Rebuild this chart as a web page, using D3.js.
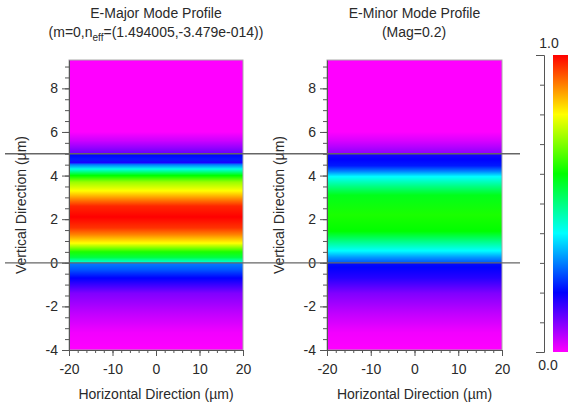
<!doctype html>
<html lang="en">
  <head>
    <meta charset="UTF-8" />
    <title>E-Major / E-Minor Mode Profile</title>
    <script src="https://d3js.org/d3.v7.min.js"></script>
    <style>
      body {
        margin: 0;
        padding: 0;
        background: #fff;
        font-family: 'Liberation Sans', Arial, sans-serif;
      }
      .title {
        font-size: 14px;
        fill: #2a2a2a;
        text-anchor: middle;
      }
      .axis-title {
        font-size: 14px;
        fill: #2a2a2a;
        text-anchor: middle;
      }
      .axis text {
        font-size: 14px;
        fill: #2a2a2a;
        font-family: 'Liberation Sans', Arial, sans-serif;
      }
      .axis line,
      .axis path {
        stroke: #555;
      }
    </style>
  </head>
  <body>
    <div id="chart"></div>
    <script>
      // vertical profiles (y in um, normalised field value)
      const majorY = [9.3, 6.0, 5.6, 5.3, 5.02, 4.98, 4.75, 4.6, 4.5, 4.3, 4.0, 3.7, 3.3, 2.9, 2.6, 2.1, 1.6, 1.3, 0.9, 0.5, 0.25, 0.02, -0.02, -0.3, -0.7, -1.4, -2.3, -3.2, -4]
      const majorV = [0, 0, 0.04, 0.08, 0.12, 0.2, 0.22, 0.18, 0.3, 0.42, 0.6, 0.72, 0.8, 0.9, 0.97, 1.0, 0.96, 0.9, 0.8, 0.62, 0.55, 0.43, 0.3, 0.27, 0.2, 0.1, 0.05, 0.01, 0]

      const minorY = [9.3, 6.0, 5.6, 5.3, 5.02, 4.98, 4.75, 4.45, 4.2, 3.95, 3.5, 3.1, 2.2, 1.45, 1.0, 0.55, 0.25, 0.02, -0.02, -0.2, -0.7, -1.4, -2.3, -3.2, -4]
      const minorV = [0, 0, 0.03, 0.06, 0.09, 0.18, 0.2, 0.22, 0.3, 0.4, 0.5, 0.58, 0.62, 0.6, 0.5, 0.4, 0.32, 0.27, 0.21, 0.2, 0.17, 0.1, 0.05, 0.01, 0]

      // colour map
      const cmapStops = [0, 0.2, 0.4, 0.6, 0.8, 1.0]
      const cmapColors = ['#ff00ff', '#0000ff', '#00ffff', '#00ff00', '#ffff00', '#ff0000']

      const xTicks = [-20, -10, 0, 10, 20]
      const yTicks = [-4, -2, 0, 2, 4, 6, 8]
      const cbTicks = [0, 0.1, 0.2, 0.3, 0.4, 0.5, 0.6, 0.7, 0.8, 0.9, 1.0]
      const interfaces = [5, 0]

      const W = 585
      const H = 412

      const svg = d3.select('#chart').append('svg').attr('width', W).attr('height', H)
      const defs = svg.append('defs')

      const color = d3.scaleLinear().domain(cmapStops).range(cmapColors).clamp(true)
      const fmt = (d) => String(d) // plain hyphen minus like the original

      const y = d3.scaleLinear().domain([-4, 9.3]).range([350, 60])
      const xL = d3.scaleLinear().domain([-20, 20]).range([69, 243])
      const xR = d3.scaleLinear().domain([-20, 20]).range([327, 502])

      const panels = [
        { id: 'major', x: xL, ys: majorY, vs: majorV, title: 'E-Major Mode Profile' },
        { id: 'minor', x: xR, ys: minorY, vs: minorV, title: 'E-Minor Mode Profile' },
      ]

      const y0 = y.range()[1]
      const y1 = y.range()[0]

      panels.forEach((p) => {
        const grad = defs
          .append('linearGradient')
          .attr('id', 'g-' + p.id)
          .attr('gradientUnits', 'userSpaceOnUse')
          .attr('x1', 0)
          .attr('x2', 0)
          .attr('y1', y0)
          .attr('y2', y1)
        grad
          .selectAll('stop')
          .data(p.ys.map((d, i) => ({ y: d, v: p.vs[i] })))
          .join('stop')
          .attr('offset', (d) => (y(d.y) - y0) / (y1 - y0))
          .attr('stop-color', (d) => color(d.v))

        const [xa, xb] = p.x.range()
        svg
          .append('rect')
          .attr('x', xa)
          .attr('y', y0)
          .attr('width', xb - xa)
          .attr('height', y1 - y0)
          .attr('fill', `url(#g-${p.id})`)
          .attr('stroke', '#aaa')
          .attr('stroke-width', 1)

        // y axis, major + minor ticks
        svg
          .append('g')
          .attr('class', 'axis')
          .attr('transform', `translate(${xa},0)`)
          .call(d3.axisLeft(y).tickValues(d3.range(-4, 9.3, 0.5)).tickSize(4).tickFormat('').tickSizeOuter(0))
          .call((g) => g.select('.domain').remove())
        svg
          .append('g')
          .attr('class', 'axis')
          .attr('transform', `translate(${xa},0)`)
          .call(d3.axisLeft(y).tickValues(yTicks).tickSize(7).tickPadding(4).tickSizeOuter(0).tickFormat(fmt))

        // x axis
        svg
          .append('g')
          .attr('class', 'axis')
          .attr('transform', `translate(0,${y1})`)
          .call(d3.axisBottom(p.x).tickValues(d3.range(-20, 21, 2)).tickSize(3).tickFormat('').tickSizeOuter(0))
        svg
          .append('g')
          .attr('class', 'axis')
          .attr('transform', `translate(0,${y1})`)
          .call(d3.axisBottom(p.x).tickValues(xTicks).tickSize(6).tickPadding(8).tickSizeOuter(0).tickFormat(fmt))
          .call((g) => g.select('.domain').remove())

        const cx = (xa + xb) / 2
        svg.append('text').attr('class', 'title').attr('x', cx).attr('y', 18).text(p.title)
        svg
          .append('text')
          .attr('class', 'axis-title')
          .attr('x', cx)
          .attr('y', 399)
          .text('Horizontal Direction (\u00b5m)')
        svg
          .append('text')
          .attr('class', 'axis-title')
          .attr('transform', `translate(${xa - 43},${(y0 + y1) / 2}) rotate(-90)`)
          .text('Vertical Direction (\u00b5m)')
      })

      // second title lines
      const sub = svg.append('text').attr('class', 'title').attr('x', 156).attr('y', 37)
      sub.append('tspan').text('(m=0,n')
      sub.append('tspan').attr('font-size', '10px').attr('dy', 4).text('eff')
      sub.append('tspan').attr('dy', -4).text('=(1.494005,-3.479e-014))')

      svg.append('text').attr('class', 'title').attr('x', 414).attr('y', 37).text('(Mag=0.2)')

      // interface lines
      svg
        .selectAll('.iface')
        .data(interfaces)
        .join('line')
        .attr('class', 'iface')
        .attr('x1', 5)
        .attr('x2', 520)
        .attr('y1', (d) => y(d))
        .attr('y2', (d) => y(d))
        .attr('stroke', '#666')
        .attr('stroke-width', 1.3)

      // colour bar
      const c = d3.scaleLinear().domain([0, 1]).range([352, 55])
      const cbGrad = defs
        .append('linearGradient')
        .attr('id', 'cb')
        .attr('gradientUnits', 'userSpaceOnUse')
        .attr('x1', 0)
        .attr('x2', 0)
        .attr('y1', c(1))
        .attr('y2', c(0))
      cbGrad
        .selectAll('stop')
        .data(cmapStops.slice().reverse())
        .join('stop')
        .attr('offset', (d) => 1 - d)
        .attr('stop-color', (d) => color(d))

      svg
        .append('rect')
        .attr('x', 553)
        .attr('y', c(1))
        .attr('width', 15)
        .attr('height', c(0) - c(1))
        .attr('fill', 'url(#cb)')

      svg
        .append('g')
        .attr('class', 'axis')
        .attr('transform', 'translate(544,0)')
        .call(d3.axisLeft(c).tickValues(cbTicks).tickSize(4).tickFormat('').tickSizeOuter(8))

      svg.append('text').attr('class', 'title').attr('x', 549).attr('y', 48).text('1.0')
      svg.append('text').attr('class', 'title').attr('x', 548).attr('y', 370).text('0.0')
    </script>
  </body>
</html>
